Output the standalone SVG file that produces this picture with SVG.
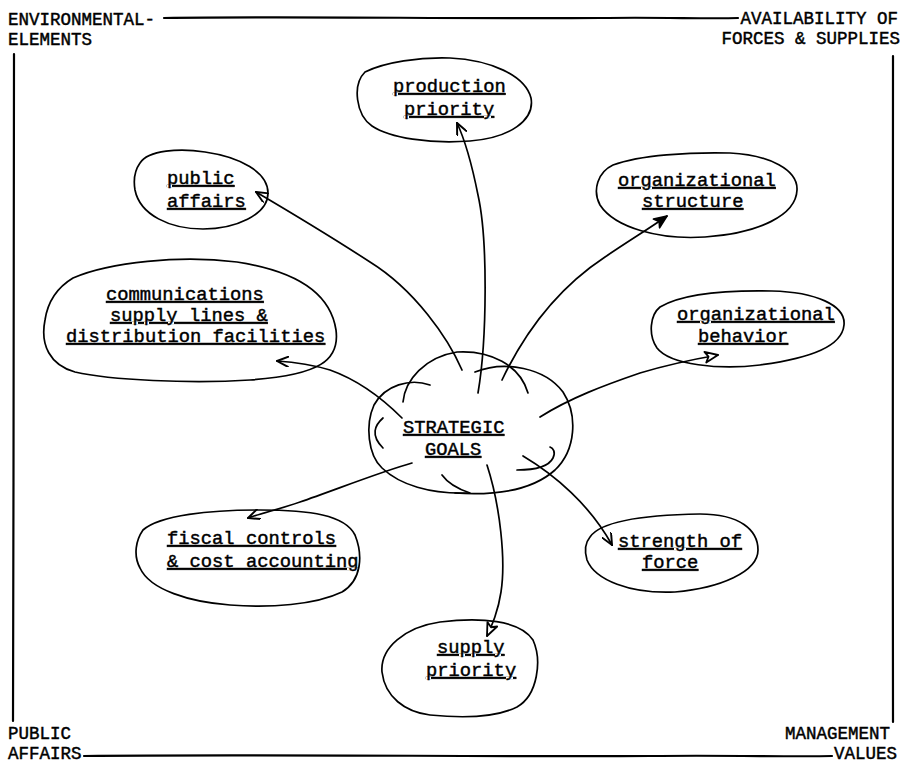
<svg xmlns="http://www.w3.org/2000/svg" width="902" height="766" viewBox="0 0 902 766">
<style>
.t{font-family:"Liberation Mono","Courier New",monospace;font-size:18.8px;fill:#000;stroke:#000;stroke-width:0.45;text-decoration:underline}
.c{font-family:"Liberation Mono","Courier New",monospace;font-size:17.5px;fill:#000;stroke:#000;stroke-width:0.45}
.b{fill:none;stroke:#000;stroke-width:1.7;stroke-linejoin:round;stroke-linecap:round}
.f{fill:none;stroke:#000;stroke-width:2.2;stroke-linecap:round}
.a{fill:none;stroke:#000;stroke-width:1.7;stroke-linecap:round}
</style>
<defs>
<marker id="v" viewBox="0 0 12 10" refX="11" refY="5" markerWidth="13" markerHeight="11" markerUnits="userSpaceOnUse" orient="auto">
<path d="M0,0 L11,5 L0,10" fill="none" stroke="#000" stroke-width="1.8"/>
</marker>
<marker id="h" viewBox="0 0 14 12" refX="13" refY="6" markerWidth="15" markerHeight="13" markerUnits="userSpaceOnUse" orient="auto">
<path d="M1,1 L13,6 L1,11 L4,6 Z" fill="#fff" stroke="#000" stroke-width="1.7" stroke-linejoin="round"/>
</marker>
<marker id="s" viewBox="0 0 14 12" refX="13" refY="6" markerWidth="15" markerHeight="13" markerUnits="userSpaceOnUse" orient="auto">
<path d="M1,1 L13,6 L1,11 L4,6 Z" fill="#000" stroke="#000" stroke-width="1.5" stroke-linejoin="round"/>
</marker>
</defs>
<rect width="902" height="766" fill="#fff"/>

<g id="frame">
<path class="f" d="M164,18 C300,16 450,19 600,18 C660,17 705,19 738,18"/>
<path class="f" d="M14,54 C13,250 14,500 13,721"/>
<path class="f" d="M893,56 C894,300 892,500 893,722"/>
<path class="f" d="M84,756 C250,754 500,757 650,756 C730,755 790,757 832,756"/>
<text class="c" x="8" y="25">ENVIRONMENTAL-</text>
<text class="c" x="8" y="45">ELEMENTS</text>
<text class="c" text-anchor="end" x="898" y="24">AVAILABILITY OF</text>
<text class="c" text-anchor="end" x="900" y="44">FORCES &amp; SUPPLIES</text>
<text class="c" x="8" y="739">PUBLIC</text>
<text class="c" x="8" y="759">AFFAIRS</text>
<text class="c" text-anchor="end" x="890" y="739">MANAGEMENT</text>
<text class="c" text-anchor="end" x="897" y="759">VALUES</text>
</g>

<g id="connectors">
<path class="a" d="M462,370 C448,338 415,290 370,262 C330,236 290,212 256,192" marker-end="url(#v)"/>
<path class="a" d="M478,393 C487,340 488,240 478,195 C472,165 465,140 457,123" marker-end="url(#v)"/>
<path class="a" d="M502,380 C522,338 555,290 605,257 C630,240 650,228 667,216" marker-end="url(#s)"/>
<path class="a" d="M540,417 C570,398 605,385 640,373 C670,364 695,359 718,355" marker-end="url(#h)"/>
<path class="a" d="M523,456 C555,475 590,505 612,545" marker-end="url(#v)"/>
<path class="a" d="M487,465 C500,505 506,560 501,592 C498,612 492,625 487,636" marker-end="url(#h)"/>
<path class="a" d="M402,418 C382,398 358,380 330,370 C310,364 292,362 277,361" marker-end="url(#v)"/>
<path class="a" d="M412,463 C380,472 335,490 300,502 C280,509 262,513 248,518" marker-end="url(#v)"/>
</g>

<g id="production-priority">
<path class="b" d="M365,72 C385,62 420,57 450,58 C490,60 525,75 531,98 C535,120 510,138 470,141 C430,144 390,138 372,126 C356,115 352,85 365,72 Z"/>
<text class="t" x="393" y="92">production</text>
<text class="t" x="404" y="115">priority</text>
</g>

<g id="public-affairs">
<path class="b" d="M140,163 C148,150 180,148 205,152 C240,157 268,172 268,193 C268,215 235,229 203,229 C170,229 140,215 135,190 C133,178 135,170 140,163 Z"/>
<text class="t" x="167" y="184">public</text>
<text class="t" x="167" y="207">affairs</text>
</g>

<g id="communications">
<path class="b" d="M73,278 C110,262 180,255 237,262 C290,270 330,290 336,330 C340,360 320,375 250,380 C190,384 110,380 75,372 C50,365 40,345 45,320 C48,300 58,287 73,278 Z"/>
<text class="t" x="106" y="300">communications</text>
<text class="t" x="110" y="321">supply lines &amp;</text>
<text class="t" x="66" y="342">distribution facilities</text>
</g>

<g id="organizational-structure">
<path class="b" d="M613,165 C640,155 690,152 730,153 C770,155 798,170 797,190 C796,215 760,233 705,237 C660,240 615,228 600,205 C592,190 598,172 613,165 Z"/>
<text class="t" x="618" y="186">organizational</text>
<text class="t" x="642" y="207">structure</text>
</g>

<g id="organizational-behavior">
<path class="b" d="M660,307 C680,295 720,290 772,291 C815,292 846,305 844,325 C842,346 812,358 760,365 C720,370 670,365 657,348 C648,335 650,315 660,307 Z"/>
<text class="t" x="677" y="320">organizational</text>
<text class="t" x="698" y="342">behavior</text>
</g>

<g id="strategic-goals">
<path class="b" d="M403,402 C405,380 425,357 457,352 C490,350 520,365 528,393"/>
<path class="b" d="M475,372 C505,360 545,368 563,392 C578,415 576,450 555,470 C535,488 500,496 455,493"/>
<path class="b" d="M430,385 C410,378 385,385 374,405 C365,425 368,455 382,468 C400,485 430,494 467,493"/>
<path class="b" d="M383,418 C375,425 370,435 383,448"/>
<path class="b" d="M442,475 C447,482 455,488 470,493"/>
<path class="b" d="M517,470 C530,470 548,468 553,458 C556,452 553,448 550,447"/>
<text class="t" x="403" y="433">STRATEGIC</text>
<text class="t" x="425" y="455">GOALS</text>
</g>

<g id="fiscal-controls">
<path class="b" d="M143,530 C160,515 210,510 260,510 C310,510 345,515 355,535 C363,555 362,580 342,592 C315,605 270,608 230,605 C190,602 150,590 140,568 C133,555 136,540 143,530 Z"/>
<text class="t" x="167" y="544">fiscal controls</text>
<text class="t" x="167" y="567">&amp; cost accounting</text>
</g>

<g id="strength-of-force">
<path class="b" d="M590,537 C600,522 640,515 700,514 C740,514 758,530 758,550 C758,572 720,588 675,592 C630,594 595,580 587,560 C584,550 585,543 590,537 Z"/>
<text class="t" x="618" y="547">strength of</text>
<text class="t" x="642" y="568">force</text>
</g>

<g id="supply-priority">
<path class="b" d="M440,622 C480,617 520,620 533,640 C542,660 538,695 517,707 C495,718 460,718 430,715 C405,712 385,697 382,672 C380,648 405,627 440,622 Z"/>
<text class="t" x="437" y="653">supply</text>
<text class="t" x="426" y="676">priority</text>
</g>
</svg>
